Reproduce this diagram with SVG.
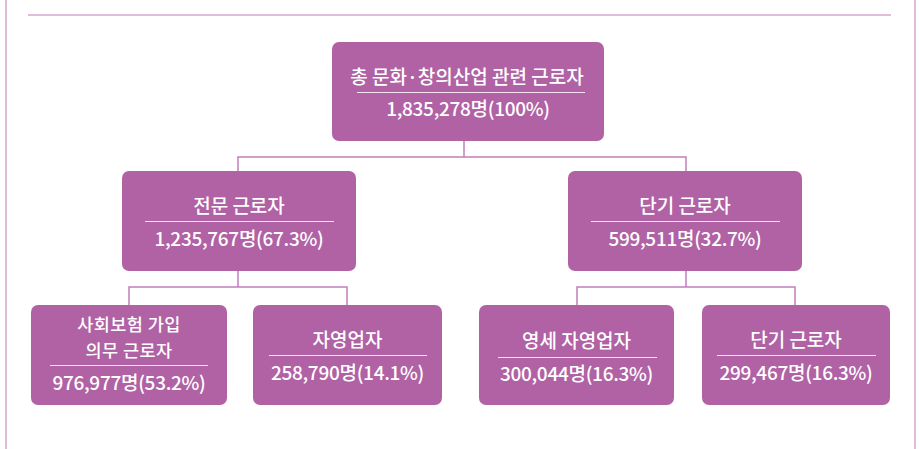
<svg xmlns="http://www.w3.org/2000/svg" width="920" height="449" viewBox="0 0 920 449">
<style>
.frame{stroke:#d7a5cf;stroke-width:1.5;fill:none}
.box{fill:#b062a5}
.div{stroke:#f3e3f0;stroke-width:1}
.conn{stroke:#c27db9;stroke-width:1.5;fill:none}
text{font-family:"Noto Sans CJK KR","Noto Sans",sans-serif;font-size:19px;fill:#ffffff;text-anchor:middle;font-weight:500}
.num{letter-spacing:-0.3px}
.two{font-size:17.5px;letter-spacing:0.4px}
</style>
<rect width="920" height="449" fill="#ffffff"/>
<g id="frame">
<line class="frame" x1="6" y1="0" x2="6" y2="449"/>
<line class="frame" x1="915" y1="0" x2="915" y2="449"/>
<line class="frame" x1="28" y1="15" x2="891" y2="15" stroke-width="2"/>
</g>
<g id="connectors">
<path class="conn" d="M464,141V157M238,171V157H686V171"/>
<path class="conn" d="M238,271V287M129,305V287H347V305"/>
<path class="conn" d="M686,271V287M577,305V287H795V305"/>
</g>
<g id="n-total">
<rect class="box" x="332" y="42" width="272" height="99" rx="7"/>
<text x="467" y="83.5">총 문화·창의산업 관련 근로자</text>
<line class="div" x1="357" y1="92.5" x2="585" y2="92.5"/>
<text class="num" x="468" y="116">1,835,278명(100%)</text>
</g>
<g id="n-pro">
<rect class="box" x="122" y="171" width="234" height="100" rx="7"/>
<text x="239" y="212.5">전문 근로자</text>
<line class="div" x1="145" y1="221.5" x2="334" y2="221.5"/>
<text class="num" x="239" y="246">1,235,767명(67.3%)</text>
</g>
<g id="n-short">
<rect class="box" x="568" y="171" width="234" height="100" rx="7"/>
<text x="685" y="212.5">단기 근로자</text>
<line class="div" x1="591" y1="221.5" x2="780" y2="221.5"/>
<text class="num" x="685" y="246">599,511명(32.7%)</text>
</g>
<g id="n-insured">
<rect class="box" x="31" y="305" width="196" height="100" rx="7"/>
<text class="two" x="129" y="331">사회보험 가입<tspan x="129" dy="25.5">의무 근로자</tspan></text>
<line class="div" x1="50" y1="365.5" x2="208" y2="365.5"/>
<text class="num" x="129" y="390">976,977명(53.2%)</text>
</g>
<g id="n-self">
<rect class="box" x="253" y="305" width="189" height="100" rx="7"/>
<text x="347.5" y="346.5">자영업자</text>
<line class="div" x1="269" y1="355.5" x2="427" y2="355.5"/>
<text class="num" x="347.5" y="380">258,790명(14.1%)</text>
</g>
<g id="n-small-self">
<rect class="box" x="479" y="305" width="195" height="100" rx="7"/>
<text x="576.5" y="347.5">영세 자영업자</text>
<line class="div" x1="498" y1="357.5" x2="657" y2="357.5"/>
<text class="num" x="576.5" y="381">300,044명(16.3%)</text>
</g>
<g id="n-short2">
<rect class="box" x="702" y="305" width="188" height="100" rx="7"/>
<text x="796" y="346.5">단기 근로자</text>
<line class="div" x1="717" y1="355.5" x2="876" y2="355.5"/>
<text class="num" x="796" y="380">299,467명(16.3%)</text>
</g>
</svg>
